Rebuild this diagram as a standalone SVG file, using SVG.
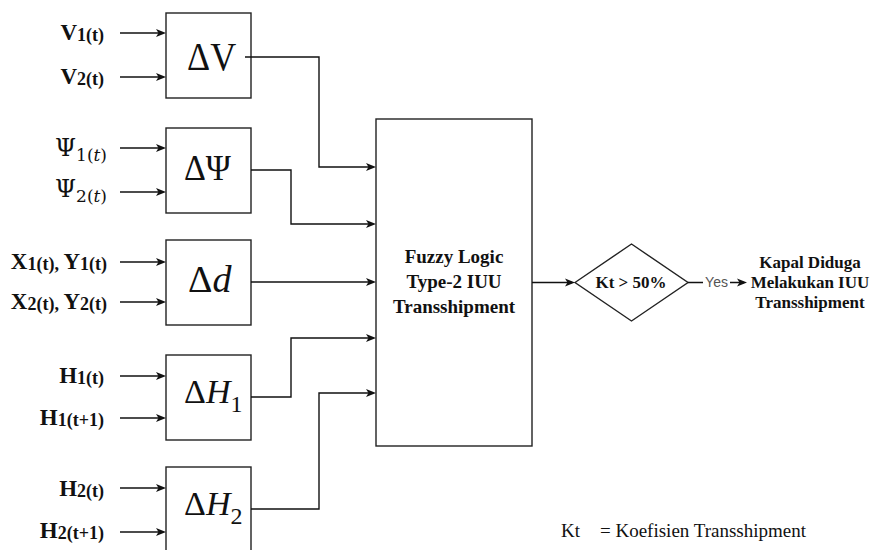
<svg xmlns="http://www.w3.org/2000/svg" width="872" height="550" viewBox="0 0 872 550">
<style>
.box{fill:#fff;stroke:#222;stroke-width:1.4}
.ln{fill:none;stroke:#111;stroke-width:1.4}
.lbl{font-family:"Liberation Serif",serif;font-weight:bold;font-size:23px;fill:#111}
.sub{font-size:18px}
.psi{font-family:"DejaVu Serif","Liberation Serif",serif;font-size:24px;fill:#111}
.psub{font-size:17px}
.dl{font-family:"Liberation Serif",serif;fill:#111}
.bt{font-family:"Liberation Serif",serif;font-weight:bold;fill:#111;text-anchor:middle}
</style>
<defs>
<marker id="arr" viewBox="0 0 10 10" refX="7" refY="5" markerWidth="10" markerHeight="10" markerUnits="userSpaceOnUse" orient="auto">
<path d="M0,1 L10,5 L0,9 L2.5,5 Z" fill="#111"/>
</marker>
</defs>
<rect width="872" height="550" fill="#fff"/>

<g id="inputs">
<text class="lbl" x="104" y="40" text-anchor="end">V<tspan class="sub" dy="1">1(t)</tspan></text>
<text class="lbl" x="104" y="84" text-anchor="end">V<tspan class="sub" dy="1">2(t)</tspan></text>
<text class="psi" x="107" y="156" text-anchor="end">Ψ<tspan class="psub" dy="5">1(<tspan font-style="italic">t</tspan>)</tspan></text>
<text class="psi" x="107" y="197" text-anchor="end">Ψ<tspan class="psub" dy="5">2(<tspan font-style="italic">t</tspan>)</tspan></text>
<text class="lbl" x="107" y="269" text-anchor="end">X<tspan class="sub" dy="1">1(t), </tspan><tspan dy="-1">Y</tspan><tspan class="sub" dy="1">1(t)</tspan></text>
<text class="lbl" x="107" y="309" text-anchor="end">X<tspan class="sub" dy="1">2(t), </tspan><tspan dy="-1">Y</tspan><tspan class="sub" dy="1">2(t)</tspan></text>
<text class="lbl" x="104" y="383" text-anchor="end">H<tspan class="sub" dy="1">1(t)</tspan></text>
<text class="lbl" x="104" y="425" text-anchor="end">H<tspan class="sub" dy="1">1(t+1)</tspan></text>
<text class="lbl" x="104" y="496" text-anchor="end">H<tspan class="sub" dy="1">2(t)</tspan></text>
<text class="lbl" x="104" y="538" text-anchor="end">H<tspan class="sub" dy="1">2(t+1)</tspan></text>
</g>

<g id="dV">
<rect class="box" x="166" y="13" width="85" height="85"/>
<text class="dl" font-size="36" transform="translate(187,70) scale(1,1.12)">ΔV</text>
</g>
<g id="dPsi">
<rect class="box" x="166" y="128" width="85" height="85"/>
<text class="dl" font-size="34" transform="translate(184,180) scale(1,1.05)">ΔΨ</text>
</g>
<g id="dd">
<rect class="box" x="166" y="240" width="85" height="85"/>
<text class="dl" x="188" y="292" font-size="38">Δ<tspan font-style="italic">d</tspan></text>
</g>
<g id="dH1">
<rect class="box" x="166" y="355" width="85" height="85"/>
<text class="dl" x="184" y="403" font-size="34">Δ<tspan font-style="italic">H</tspan><tspan font-size="24" dy="9">1</tspan></text>
</g>
<g id="dH2">
<rect class="box" x="166" y="467" width="85" height="85"/>
<text class="dl" x="184" y="515" font-size="34">Δ<tspan font-style="italic">H</tspan><tspan font-size="24" dy="9">2</tspan></text>
</g>

<g id="fuzzy">
<rect class="box" x="376" y="119" width="156" height="327"/>
<text class="bt" x="454" y="263" font-size="19">Fuzzy Logic</text>
<text class="bt" x="454" y="288" font-size="19">Type-2 IUU</text>
<text class="bt" x="454" y="313" font-size="19">Transshipment</text>
</g>

<g id="decision">
<polygon class="box" points="575,282.5 631.5,244 688,282.5 631.5,321"/>
<text class="bt" x="631" y="288" font-size="17">Kt &gt; 50%</text>
</g>

<g id="result">
<text class="bt" x="810" y="268" font-size="17">Kapal Diduga</text>
<text class="bt" x="810" y="288" font-size="17">Melakukan IUU</text>
<text class="bt" x="810" y="308" font-size="17">Transshipment</text>
</g>

<g id="connectors">
<path class="ln" d="M120,33 H163" marker-end="url(#arr)"/>
<path class="ln" d="M120,77 H163" marker-end="url(#arr)"/>
<path class="ln" d="M120,148 H163" marker-end="url(#arr)"/>
<path class="ln" d="M120,192 H163" marker-end="url(#arr)"/>
<path class="ln" d="M120,262 H163" marker-end="url(#arr)"/>
<path class="ln" d="M120,302 H163" marker-end="url(#arr)"/>
<path class="ln" d="M120,376 H163" marker-end="url(#arr)"/>
<path class="ln" d="M120,418 H163" marker-end="url(#arr)"/>
<path class="ln" d="M120,488 H163" marker-end="url(#arr)"/>
<path class="ln" d="M120,532 H163" marker-end="url(#arr)"/>
<path class="ln" d="M245,57 H319 V167 H373" marker-end="url(#arr)"/>
<path class="ln" d="M251,170 H291 V224 H373" marker-end="url(#arr)"/>
<path class="ln" d="M251,282 H373" marker-end="url(#arr)"/>
<path class="ln" d="M251,397 H291 V338 H373" marker-end="url(#arr)"/>
<path class="ln" d="M251,509 H319 V393 H373" marker-end="url(#arr)"/>
<path class="ln" d="M532,282.5 H572" marker-end="url(#arr)"/>
<path class="ln" d="M688,282.5 H744" marker-end="url(#arr)"/>
<rect x="703" y="275" width="27" height="15" fill="#fff"/>
<text x="716.5" y="287" font-family="Liberation Sans, Arial, sans-serif" font-size="14" fill="#555" text-anchor="middle">Yes</text>
</g>

<g id="legend">
<text x="561" y="537" font-family="Liberation Serif, serif" font-size="19" fill="#111">Kt</text>
<text x="600" y="537" font-family="Liberation Serif, serif" font-size="19" fill="#111">= Koefisien Transshipment</text>
</g>
</svg>
